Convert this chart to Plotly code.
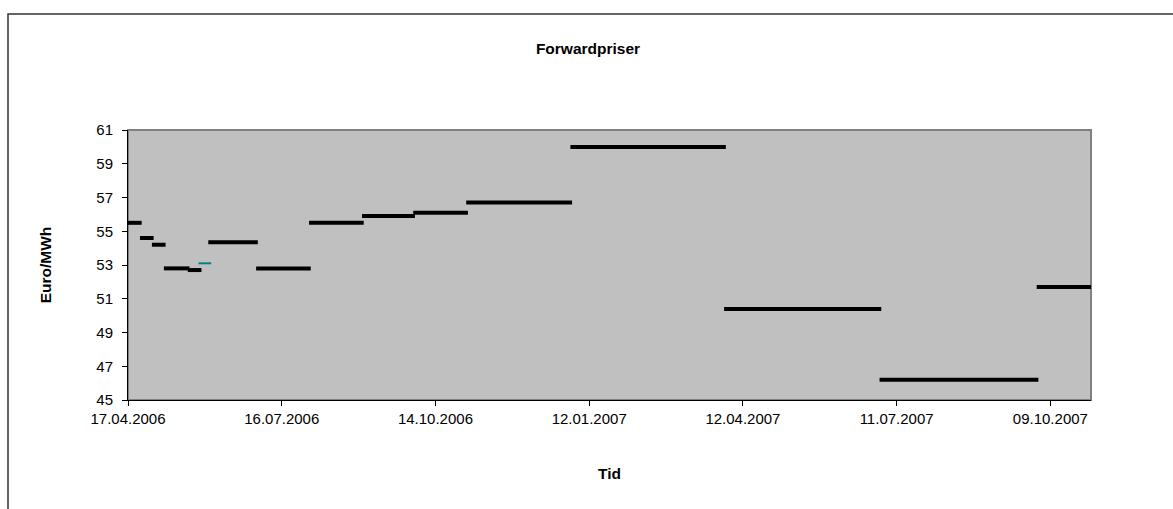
import plotly.graph_objects as go

# Forward contracts: delivery period (start, end exclusive) and price in Euro/MWh
delivery_start = ["2006-04-17", "2006-04-24", "2006-05-01", "2006-05-08", "2006-05-22",
                  "2006-06-03", "2006-07-01", "2006-08-01", "2006-09-01", "2006-10-01",
                  "2006-11-01", "2007-01-01", "2007-04-01", "2007-07-01", "2007-10-01"]
delivery_end = ["2006-04-25", "2006-05-02", "2006-05-09", "2006-05-23", "2006-05-30",
                "2006-07-02", "2006-08-02", "2006-09-02", "2006-10-02", "2006-11-02",
                "2007-01-02", "2007-04-02", "2007-07-02", "2007-10-02", "2007-11-02"]
prices = [55.5, 54.6, 54.2, 52.8, 52.7,
          54.35, 52.8, 55.5, 55.9, 56.1,
          56.7, 60.0, 50.4, 46.2, 51.7]

# Single quote of a separate product
spot_date = ["2006-06-01"]
spot_price = [53.1]

W, H = 1173, 509
ML, MR, MT, MB = 128, 82, 130, 109
PW, PH = W - ML - MR, H - MT - MB


def px_x(p):
    return (p - ML) / PW


def px_y(p):
    return (H - MB - p) / PH


fig = go.Figure()

for s, e, p in zip(delivery_start, delivery_end, prices):
    fig.add_trace(go.Scatter(
        x=[s, e], y=[p, p], mode="lines",
        line=dict(color="black", width=4),
        hoverinfo="skip", showlegend=False,
    ))

fig.add_trace(go.Scatter(
    x=spot_date, y=spot_price, mode="markers",
    marker=dict(symbol="line-ew", size=9, line=dict(color="#008080", width=2)),
    showlegend=False,
))

font_family = "Liberation Sans, Arial, sans-serif"

fig.update_layout(
    width=W, height=H,
    margin=dict(l=ML, r=MR, t=MT, b=MB),
    paper_bgcolor="white",
    plot_bgcolor="#C0C0C0",
    font=dict(family=font_family, size=15, color="black"),
    title=dict(text="<b>Forwardpriser</b>", x=px_x(588), xref="paper", xanchor="center",
               y=1 - 49 / H, yanchor="middle", font=dict(size=15.5)),
    xaxis=dict(
        type="date",
        range=["2006-04-17", "2007-11-01 19:00"],
        tick0="2006-04-17", dtick=90 * 86400000,
        tickformat="%d.%m.%Y",
        ticks="outside", ticklen=5, tickcolor="black",
        showline=True, linecolor="black", linewidth=1,
        showgrid=False, zeroline=False,
        title=dict(text="<b>Tid</b>", font=dict(size=15.5), standoff=42),
    ),
    yaxis=dict(
        range=[45, 61], tick0=45, dtick=2,
        ticks="outside", ticklen=5, tickcolor="black",
        showline=True, linecolor="black", linewidth=1,
        showgrid=False, zeroline=False,
        ticklabelstandoff=6,
        title=dict(text="<b>Euro/MWh</b>", font=dict(size=15.5), standoff=40),
    ),
    shapes=[
        # plot area frame
        dict(type="rect", xref="paper", yref="paper", x0=0, y0=0, x1=1, y1=1,
             line=dict(color="#808080", width=2), layer="below"),
        # outer chart frame
        dict(type="rect", xref="paper", yref="paper",
             x0=px_x(8), y0=px_y(H + 20), x1=px_x(W + 20), y1=px_y(14),
             line=dict(color="#333333", width=1.5)),
    ],
)

fig.write_html("out.html")
